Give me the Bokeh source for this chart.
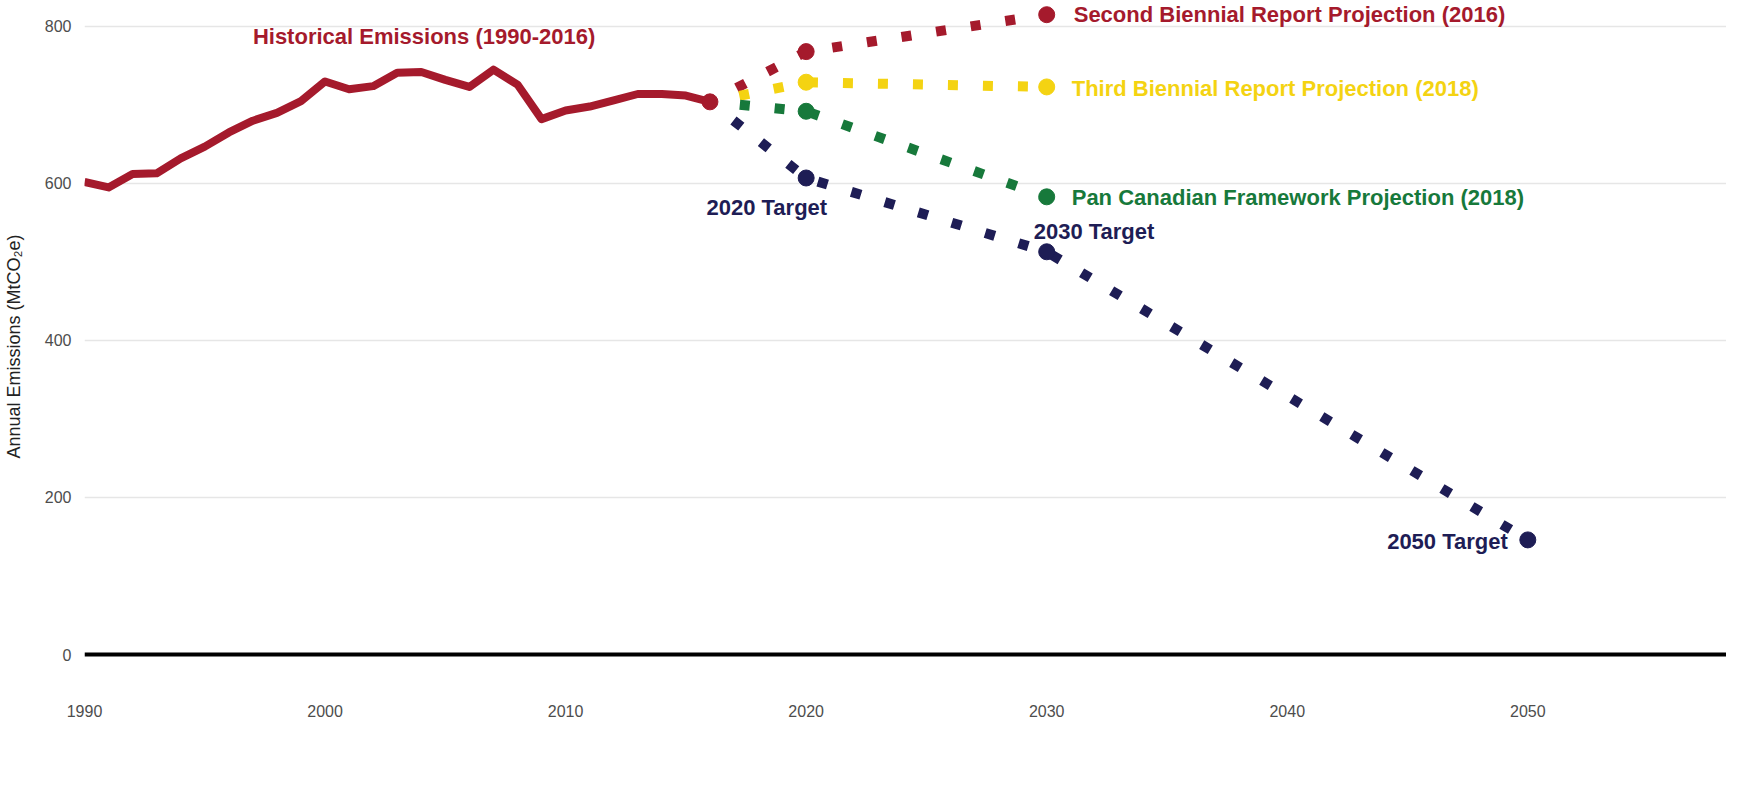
from bokeh.plotting import figure
from bokeh.models import ColumnDataSource, FixedTicker, Span, Range1d
from bokeh.core.properties import value
from bokeh.embed import file_html
from bokeh.resources import INLINE

# ---------------- data ----------------
hist_years = list(range(1990, 2017))
hist_values = [602, 595, 612, 613, 632, 647, 665, 680, 690, 705,
               730, 720, 724, 741, 742, 732, 723, 745, 726, 682,
               693, 698, 706, 714, 714, 712, 704]

sbr_years = [2016, 2020, 2030]
sbr_values = [704, 768, 815]          # Second Biennial Report Projection (2016)

tbr_years = [2016, 2020, 2030]
tbr_values = [704, 729, 723]          # Third Biennial Report Projection (2018)

pcf_years = [2016, 2020, 2030]
pcf_values = [704, 692, 583]          # Pan Canadian Framework Projection (2018)

target_years = [2016, 2020, 2030, 2050]
target_values = [704, 607, 513, 146]  # Targets

x_ticks = [1990, 2000, 2010, 2020, 2030, 2040, 2050]
y_ticks = [0, 200, 400, 600, 800]

# ---------------- style ----------------
RED = "#A51A2C"
YELLOW = "#F4D312"
GREEN = "#17793B"
NAVY = "#1E1D55"
FONT = "Liberation Sans"

p = figure(width=1726, height=752, output_backend="svg", toolbar_location=None,
           x_range=Range1d(1990, 2058.26), y_range=Range1d(-48.4, 833.1),
           min_border_left=81, min_border_right=0, min_border_top=0,
           min_border_bottom=60)
p.outline_line_color = None
p.background_fill_color = "white"
p.border_fill_color = "white"
p.xgrid.grid_line_color = None
p.ygrid.grid_line_color = "#E6E6E6"
p.ygrid.grid_line_width = 1.5
p.yaxis.ticker = FixedTicker(ticks=y_ticks)
p.xaxis.ticker = FixedTicker(ticks=x_ticks)
for ax in (p.xaxis[0], p.yaxis[0]):
    ax.axis_line_color = None
    ax.major_tick_line_color = None
    ax.minor_tick_line_color = None
    ax.major_label_text_font = FONT
    ax.major_label_text_font_size = "16px"
    ax.major_label_text_color = "#4D4D4D"
p.xaxis.major_label_standoff = 6
p.yaxis.major_label_standoff = 7
p.yaxis.axis_label = "Annual Emissions (MtCO₂e)"
p.yaxis.axis_label_text_font = FONT
p.yaxis.axis_label_text_font_style = "normal"
p.yaxis.axis_label_text_font_size = "18px"
p.yaxis.axis_label_text_color = "#222222"
p.yaxis.axis_label_standoff = 18

p.add_layout(Span(location=0, dimension="width", line_color="black", line_width=4))

DASH = "10 25"
LW = 10

def projection(xs, ys, color):
    p.line(xs, ys, line_color=color, line_width=LW, line_dash=DASH,
           line_dash_offset=5, line_cap="butt")
    p.scatter(xs[1:], ys[1:], size=16, color=color)

projection(sbr_years, sbr_values, RED)
projection(tbr_years, tbr_values, YELLOW)
projection(pcf_years, pcf_values, GREEN)
projection(target_years, target_values, NAVY)

p.line(hist_years, hist_values, line_color=RED, line_width=8, line_join="round")
p.scatter(hist_years[-1:], hist_values[-1:], size=16, color=RED)

# ---------------- labels ----------------
lab = ColumnDataSource(dict(
    x=[1997.0, sbr_years[2], tbr_years[2], pcf_years[2],
       target_years[1], target_years[2], target_years[3]],
    y=[787, sbr_values[2], tbr_values[2], pcf_values[2],
       target_values[1], target_values[2], target_values[3]],
    text=["Historical Emissions (1990-2016)",
          "Second Biennial Report Projection (2016)",
          "Third Biennial Report Projection (2018)",
          "Pan Canadian Framework Projection (2018)",
          "2020 Target", "2030 Target", "2050 Target"],
    color=[RED, RED, YELLOW, GREEN, NAVY, NAVY, NAVY],
    align=["left", "left", "left", "left", "right", "left", "right"],
    dx=[0, 27, 25, 25, 21, -13, -20],
    dy=[0, 0, 2, 1, 30, -20, 2],
))
p.text(x="x", y="y", text="text", source=lab, text_color="color",
       text_align="align", text_baseline="middle", x_offset="dx", y_offset="dy",
       text_font=value(FONT), text_font_style="bold", text_font_size="22px")

open("out.html", "w").write(file_html(p, INLINE))
